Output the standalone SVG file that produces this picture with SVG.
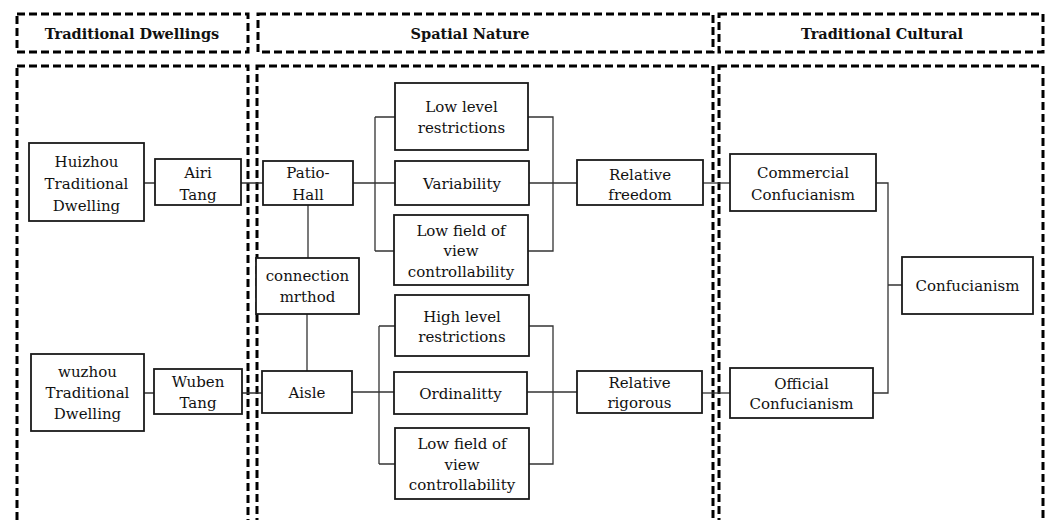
<svg xmlns="http://www.w3.org/2000/svg" width="1049" height="520" viewBox="0 0 1049 520">
<style>
.dash{fill:none;stroke:#000;stroke-width:3;stroke-dasharray:8 4}
.box{fill:#fff;stroke:#1a1a1a;stroke-width:1.8}
.t{font-family:"DejaVu Serif","Liberation Serif",serif;font-size:15px;fill:#111;text-anchor:middle}
.h{font-family:"DejaVu Serif","Liberation Serif",serif;font-size:14.5px;font-weight:bold;fill:#111;text-anchor:middle}
.c{fill:none;stroke:#333;stroke-width:1.3}
</style>
<rect width="1049" height="520" fill="#fff"/>
<g id="frames">
<rect class="dash" x="17" y="14" width="231" height="38"/>
<rect class="dash" x="258" y="14" width="455" height="38"/>
<rect class="dash" x="719" y="14" width="324" height="38"/>
<rect class="dash" x="17" y="66" width="231" height="470"/>
<rect class="dash" x="257" y="66" width="456" height="470"/>
<rect class="dash" x="719" y="66" width="324" height="470"/>
<text class="h" x="132" y="39">Traditional Dwellings</text>
<text class="h" x="470" y="39">Spatial Nature</text>
<text class="h" x="882" y="39">Traditional Cultural</text>
</g>
<g id="connectors">
<path class="c" d="M144 183H155M241 183H263"/>
<path class="c" d="M353 183H395M375 117V251M375 117H395M375 251H395"/>
<path class="c" d="M528 117H553V251H528M529 183H577"/>
<path class="c" d="M703 183H730"/>
<path class="c" d="M876 183H888V393H873M888 285H902"/>
<path class="c" d="M308 205V258M307 314V371"/>
<path class="c" d="M144 393H154M242 393H262"/>
<path class="c" d="M352 392H394M379 326V464M379 326H395M379 464H395"/>
<path class="c" d="M529 326H553V464H529M527 392H577"/>
<path class="c" d="M702 393H730"/>
</g>
<g id="huizhou"><rect class="box" x="29" y="143" width="115" height="78"/><text class="t" x="86.5" y="167">Huizhou</text><text class="t" x="86.5" y="189">Traditional</text><text class="t" x="86.5" y="211">Dwelling</text></g>
<g id="airi"><rect class="box" x="155" y="159" width="86" height="46"/><text class="t" x="198" y="178">Airi</text><text class="t" x="198" y="200">Tang</text></g>
<g id="patio"><rect class="box" x="263" y="161" width="90" height="44"/><text class="t" x="308" y="178">Patio-</text><text class="t" x="308" y="200">Hall</text></g>
<g id="connection"><rect class="box" x="256" y="258" width="103" height="56"/><text class="t" x="307.5" y="281">connection</text><text class="t" x="307.5" y="302">mrthod</text></g>
<g id="wuzhou"><rect class="box" x="31" y="354" width="113" height="77"/><text class="t" x="87.5" y="377">wuzhou</text><text class="t" x="87.5" y="398">Traditional</text><text class="t" x="87.5" y="419">Dwelling</text></g>
<g id="wuben"><rect class="box" x="154" y="369" width="88" height="45"/><text class="t" x="198" y="387">Wuben</text><text class="t" x="198" y="408">Tang</text></g>
<g id="aisle"><rect class="box" x="262" y="371" width="90" height="42"/><text class="t" x="307" y="398">Aisle</text></g>
<g id="lowlevel"><rect class="box" x="395" y="83" width="133" height="67"/><text class="t" x="461.5" y="112">Low level</text><text class="t" x="461.5" y="133">restrictions</text></g>
<g id="variability"><rect class="box" x="395" y="161" width="134" height="44"/><text class="t" x="462" y="189">Variability</text></g>
<g id="lowfield1"><rect class="box" x="394" y="215" width="134" height="70"/><text class="t" x="461" y="236">Low field of</text><text class="t" x="461" y="256">view</text><text class="t" x="461" y="277">controllability</text></g>
<g id="highlevel"><rect class="box" x="395" y="295" width="134" height="61"/><text class="t" x="462" y="322">High level</text><text class="t" x="462" y="342">restrictions</text></g>
<g id="ordinality"><rect class="box" x="394" y="372" width="133" height="42"/><text class="t" x="460.5" y="399">Ordinalitty</text></g>
<g id="lowfield2"><rect class="box" x="395" y="428" width="134" height="71"/><text class="t" x="462" y="449">Low field of</text><text class="t" x="462" y="470">view</text><text class="t" x="462" y="490">controllability</text></g>
<g id="freedom"><rect class="box" x="577" y="160" width="126" height="45"/><text class="t" x="640" y="180">Relative</text><text class="t" x="640" y="200">freedom</text></g>
<g id="rigorous"><rect class="box" x="577" y="371" width="125" height="42"/><text class="t" x="639.5" y="388">Relative</text><text class="t" x="639.5" y="408">rigorous</text></g>
<g id="commercial"><rect class="box" x="730" y="154" width="146" height="57"/><text class="t" x="803" y="178">Commercial</text><text class="t" x="803" y="200">Confucianism</text></g>
<g id="official"><rect class="box" x="730" y="368" width="143" height="50"/><text class="t" x="801.5" y="389">Official</text><text class="t" x="801.5" y="409">Confucianism</text></g>
<g id="confucianism"><rect class="box" x="902" y="257" width="131" height="57"/><text class="t" x="967.5" y="291">Confucianism</text></g>
</svg>
